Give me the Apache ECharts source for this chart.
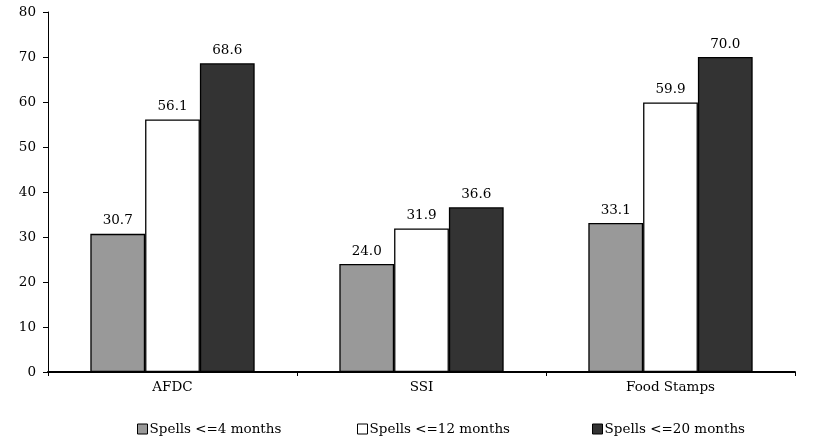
<!DOCTYPE html>
<html><head><meta charset="utf-8">
<script src="https://cdn.jsdelivr.net/npm/echarts@6/dist/echarts.min.js"></script>
<style>html,body{margin:0;padding:0;background:#fff}#c{width:830px;height:447px}</style>
</head><body><div id="c"></div>
<script>
const categories = ['AFDC', 'SSI', 'Food Stamps'];
const seriesNames = ['Spells <=4 months', 'Spells <=12 months', 'Spells <=20 months'];
const spells4 = [30.7, 24.0, 33.1];
const spells12 = [56.1, 31.9, 59.9];
const spells20 = [68.6, 36.6, 70.0];
const yTicks = [0, 10, 20, 30, 40, 50, 60, 70, 80];
const colors = ['#999999', '#ffffff', '#333333'];
const font = 'DejaVu Serif';
const fs = 13.5;
const chart = echarts.init(document.getElementById('c'));
const mk = (name, data, i) => ({
  name, type: 'bar', data, barGap: '0%', barCategoryGap: '34%',
  itemStyle: { color: colors[i], borderColor: '#000', borderWidth: 1.3 },
  label: { show: true, position: 'top', distance: 6, formatter: p => p.value.toFixed(1),
    fontFamily: font, fontSize: fs, color: '#000' }
});
const leg = (i, left) => ({
  data: [seriesNames[i]], left, top: 417, itemWidth: 10, itemHeight: 10, itemGap: 0,
  icon: 'rect', textStyle: { fontFamily: font, fontSize: fs, color: '#000', padding: [0,0,0,-3] },
  itemStyle: { borderColor: '#000', borderWidth: 1 }
});
chart.setOption({
  animation: false,
  textStyle: { fontFamily: font },
  grid: { left: 48, right: 35, top: 12, bottom: 75 },
  legend: [leg(0, 132), leg(1, 352), leg(2, 587)],
  xAxis: {
    type: 'category', data: categories,
    axisLine: { lineStyle: { color: '#000', width: 2 } },
    axisTick: { show: true, inside: false, length: 4, lineStyle: { color: '#000' } },
    axisLabel: { fontFamily: font, fontSize: fs, color: '#000', margin: 8 }
  },
  yAxis: {
    type: 'value', min: yTicks[0], max: yTicks[yTicks.length - 1], interval: 10,
    axisLine: { show: true, lineStyle: { color: '#000', width: 1 } },
    axisTick: { show: true, length: 5, lineStyle: { color: '#000' } },
    splitLine: { show: false },
    axisLabel: { fontFamily: font, fontSize: fs, color: '#000', margin: 12 }
  },
  series: [mk(seriesNames[0], spells4, 0), mk(seriesNames[1], spells12, 1), mk(seriesNames[2], spells20, 2)]
});
</script></body></html>
